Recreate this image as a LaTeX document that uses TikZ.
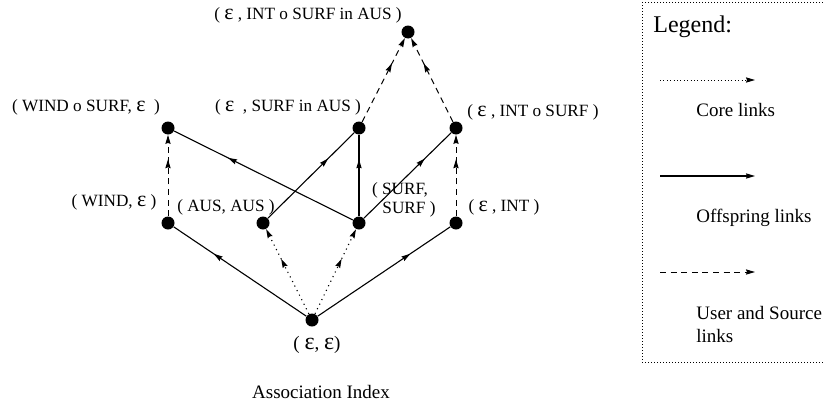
\documentclass[tikz,border=0pt]{standalone}
\usepackage{fontspec}
\setmainfont{Liberation Serif}
\usetikzlibrary{arrows.meta,decorations.markings}
\newcommand{\myeps}{{\fontsize{11pt}{11pt}\selectfont ε}}
\newcommand{\myepsb}{{\fontsize{12pt}{12pt}\selectfont ε}}
\begin{document}
\begin{tikzpicture}[x=0.5pt,y=-0.5pt,
  >={Stealth[length=4.5pt,width=2.6pt,inset=0.5pt]},
  dot/.style={circle,fill=black,inner sep=0pt,minimum size=6.5pt},
  midarr/.style={postaction={decorate,decoration={markings,mark=at position #1 with {\arrow{>}}}}},
  offspring/.style={draw,line width=0.55pt,midarr=0.7},
  core/.style={draw,line width=0.55pt,dash pattern=on 0.55pt off 2pt,->,midarr=0.65},
  user/.style={draw,line width=0.5pt,dash pattern=on 3pt off 2.3pt,->,midarr=0.7},
  legcore/.style={draw,line width=0.5pt,dash pattern=on 0.5pt off 1.2pt,->},
  legoff/.style={draw,line width=0.6pt,->},
  leguser/.style={draw,line width=0.5pt,dash pattern=on 3pt off 2.3pt,->},
  lbl/.style={font=\fontsize{8.6pt}{10pt}\selectfont,inner sep=0pt},
  txt/.style={font=\fontsize{9.5pt}{11.5pt}\selectfont,inner sep=0pt},
]
\clip (0,0) rectangle (823,407);
% nodes
\node[dot] (T)  at (408,32) {};
\node[dot] (WS) at (168,128) {};
\node[dot] (SA) at (359,128) {};
\node[dot] (IS) at (456,128) {};
\node[dot] (W)  at (168,223) {};
\node[dot] (A)  at (263,223) {};
\node[dot] (S)  at (359,223) {};
\node[dot] (I)  at (456,223) {};
\node[dot] (E)  at (312,320) {};
% edges
\path[offspring] (E) -- (W);
\path[offspring] (E) -- (I);
\path[offspring] (S) -- (WS);
\path[offspring] (A) -- (SA);
\path[offspring] (S) -- (SA);
\path[offspring] (S) -- (IS);
\path[core] (E) -- (A);
\path[core] (E) -- (S);
\path[user] (W) -- (WS);
\path[user] (I) -- (IS);
\path[user] (SA) -- (T);
\path[user] (IS) -- (T);
% labels
\node[lbl] (lT)  at (308,15)  {( \myeps{} , INT o SURF in AUS )};
\node[lbl] (lWS) at (86,107)  {( WIND o SURF, \myeps{}~ )};
\node[lbl] (lSA) at (288,107) {( \myeps{}~ , SURF in AUS )};
\node[lbl] (lIS) at (533,112) {( \myeps{} , INT o SURF )};
\node[lbl] (lW)  at (114,202) {( WIND, \myeps{} )};
\node[lbl] (lA)  at (226,207) {( AUS, AUS )};
\node[lbl] (lS1) at (400,190) {( SURF,};
\node[lbl] (lS2) at (409,209) {SURF )};
\node[lbl] (lI)  at (504,207) {( \myeps{} , INT )};
\node[txt] (lE)  at (317,345) {( \myepsb, \myepsb)};
\node[txt] (cap) at (321,392) {Association Index};
% legend
\draw[line width=0.5pt,dash pattern=on 0.5pt off 1pt] (642,2) rectangle (830,362);
\node[font=\fontsize{12pt}{14pt}\selectfont,inner sep=0pt,anchor=west] (leg) at (653,27) {Legend:};
\coordinate (c1) at (660,80);  \coordinate (c2) at (755,80);
\coordinate (o1) at (660,176); \coordinate (o2) at (755,176);
\coordinate (u1) at (660,272); \coordinate (u2) at (755,272);
\path[legcore] (c1) -- (c2);
\path[legoff] (o1) -- (o2);
\path[leguser] (u1) -- (u2);
\node[txt,anchor=west] (tc) at (696,110) {Core links};
\node[txt,anchor=west] (to) at (696,218) {Offspring links};
\node[txt,anchor=west,align=left] (tu) at (696,324) {User and Source\\links};
\end{tikzpicture}
\end{document}
